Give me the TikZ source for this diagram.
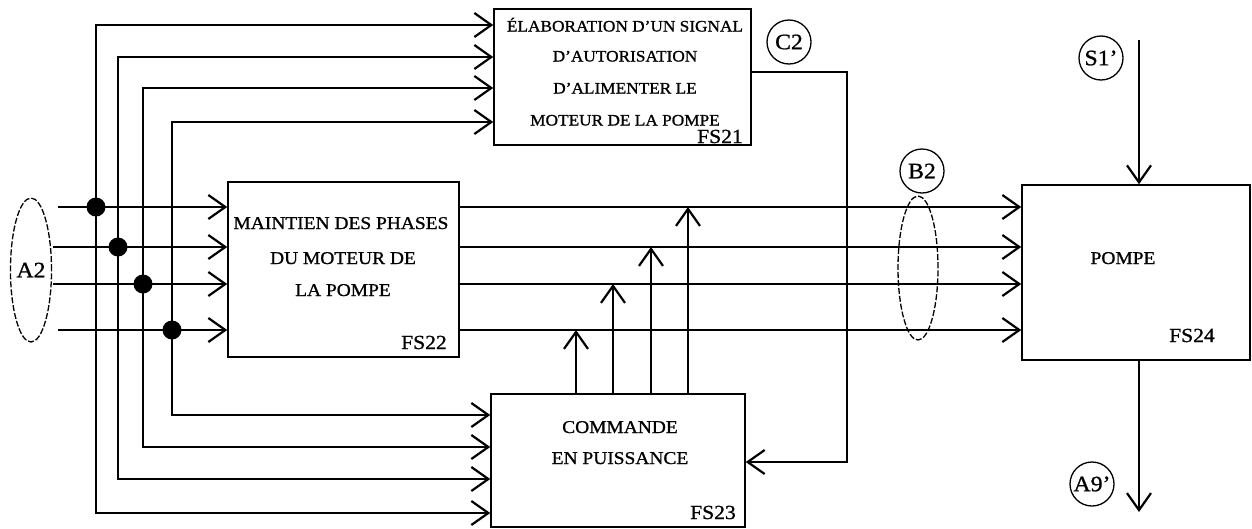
\documentclass[tikz,border=0pt]{standalone}
\usepackage{fontspec}
\setmainfont{Liberation Serif}[FakeStretch=1.08,FakeBold=1]
\usetikzlibrary{arrows.meta,shapes.geometric}
\begin{document}
\begin{tikzpicture}[x=1pt,y=-1pt,
  ln/.style={line width=1.5pt},
  arr/.style={ln,-{Straight Barb[length=17pt,width=24pt,line width=2.2pt]}},
  box/.style={draw,line width=1.5pt,inner sep=0pt},
  dot/.style={circle,fill,inner sep=0pt,minimum size=19pt},
  lbl/.style={circle,draw,line width=1.3pt,inner sep=0pt,minimum size=44pt,font=\fontsize{22}{24}\selectfont},
  grp/.style={ellipse,draw,line width=1.3pt,dash pattern=on 6pt off 2pt,inner sep=0pt},
  txt/.style={inner sep=0pt,anchor=base,font=\fontsize{18}{20}\selectfont},
  small/.style={inner sep=0pt,anchor=base,font=\fontsize{16}{18}\selectfont},
  tag/.style={inner sep=0pt,anchor=base east,font=\fontsize{20}{22}\selectfont},
]
\useasboundingbox (0,0) rectangle (1252,528);

% boxes
\node[box,minimum width=257pt,minimum height=136pt] (fs21) at (622.5,77) {};
\node[box,minimum width=231pt,minimum height=175pt] (fs22) at (343.5,269.5) {};
\node[box,minimum width=254pt,minimum height=133pt] (fs23) at (618,460.5) {};
\node[box,minimum width=228pt,minimum height=175pt] (fs24) at (1136,272.5) {};

% texts
\node[small] (t21a) at (625,31.5) {ÉLABORATION D'UN SIGNAL};
\node[small] (t21b) at (625,61.5) {D'AUTORISATION};
\node[small] (t21c) at (625,93.5) {D'ALIMENTER LE};
\node[small] (t21d) at (625,125.5) {MOTEUR DE LA POMPE};
\node[tag] (l21) at (743,143) {FS21};

\node[txt] (t22a) at (341,229) {MAINTIEN DES PHASES};
\node[txt] (t22b) at (343,264) {DU MOTEUR DE};
\node[txt] (t22c) at (343,296) {LA POMPE};
\node[tag] (l22) at (447,349) {FS22};

\node[txt] (t23a) at (620,433) {COMMANDE};
\node[txt] (t23b) at (620,464) {EN PUISSANCE};
\node[tag] (l23) at (736,519) {FS23};

\node[txt] (t24) at (1123,264) {POMPE};
\node[tag] (l24) at (1215,342) {FS24};

% label circles and groups
\node[grp,minimum width=36pt,minimum height=144pt,font=\fontsize{22}{24}\selectfont] (A2) at (31,270) {A2};
\node[grp,minimum width=40pt,minimum height=144pt] (B2g) at (918,268) {};
\node[lbl] (B2) at (922,171) {B2};
\node[lbl] (C2) at (789,42) {C2};
\node[lbl] (S1) at (1101,58) {S1'};
\node[lbl] (A9) at (1092,484) {A9'};

% input lines
\coordinate (i1) at (58,207);
\coordinate (i2) at (53,247);
\coordinate (i3) at (53,284);
\coordinate (i4) at (58,330);
\draw[arr] (i1) -- (i1 -| fs22.west);
\draw[arr] (i2) -- (i2 -| fs22.west);
\draw[arr] (i3) -- (i3 -| fs22.west);
\draw[arr] (i4) -- (i4 -| fs22.west);

% junctions
\node[dot] (d1) at (96,207) {};
\node[dot] (d2) at (118,247) {};
\node[dot] (d3) at (143,284) {};
\node[dot] (d4) at (172,330) {};
\coordinate (v1t) at (96,25);  \coordinate (v1b) at (96,513);
\coordinate (v2t) at (118,57); \coordinate (v2b) at (118,479);
\coordinate (v3t) at (143,88); \coordinate (v3b) at (143,447);
\coordinate (v4t) at (172,122);\coordinate (v4b) at (172,415);
\draw[arr] (d1.center) -- (v1t) -- (v1t -| fs21.west);
\draw[arr] (d1.center) -- (v1b) -- (v1b -| fs23.west);
\draw[arr] (d2.center) -- (v2t) -- (v2t -| fs21.west);
\draw[arr] (d2.center) -- (v2b) -- (v2b -| fs23.west);
\draw[arr] (d3.center) -- (v3t) -- (v3t -| fs21.west);
\draw[arr] (d3.center) -- (v3b) -- (v3b -| fs23.west);
\draw[arr] (d4.center) -- (v4t) -- (v4t -| fs21.west);
\draw[arr] (d4.center) -- (v4b) -- (v4b -| fs23.west);

% FS22 outputs to pump
\draw[arr] (i1 -| fs22.east) -- (i1 -| fs24.west);
\draw[arr] (i2 -| fs22.east) -- (i2 -| fs24.west);
\draw[arr] (i3 -| fs22.east) -- (i3 -| fs24.west);
\draw[arr] (i4 -| fs22.east) -- (i4 -| fs24.west);

% power command outputs
\coordinate (u1) at (576,330);
\coordinate (u2) at (613,284);
\coordinate (u3) at (651,247);
\coordinate (u4) at (688,207);
\draw[arr] (u1 |- fs23.north) -- (u1);
\draw[arr] (u2 |- fs23.north) -- (u2);
\draw[arr] (u3 |- fs23.north) -- (u3);
\draw[arr] (u4 |- fs23.north) -- (u4);

% C2 feedback
\coordinate (k1) at (847,72);
\coordinate (k2) at (847,462);
\draw[arr] (k1 -| fs21.east) -- (k1) -- (k2) -- (k2 -| fs23.east);

% pump in/out
\coordinate (s1) at (1139,40);
\coordinate (a9) at (1139,512);
\draw[arr] (s1) -- (s1 |- fs24.north);
\draw[arr] (a9 |- fs24.south) -- (a9);
\end{tikzpicture}
\end{document}
